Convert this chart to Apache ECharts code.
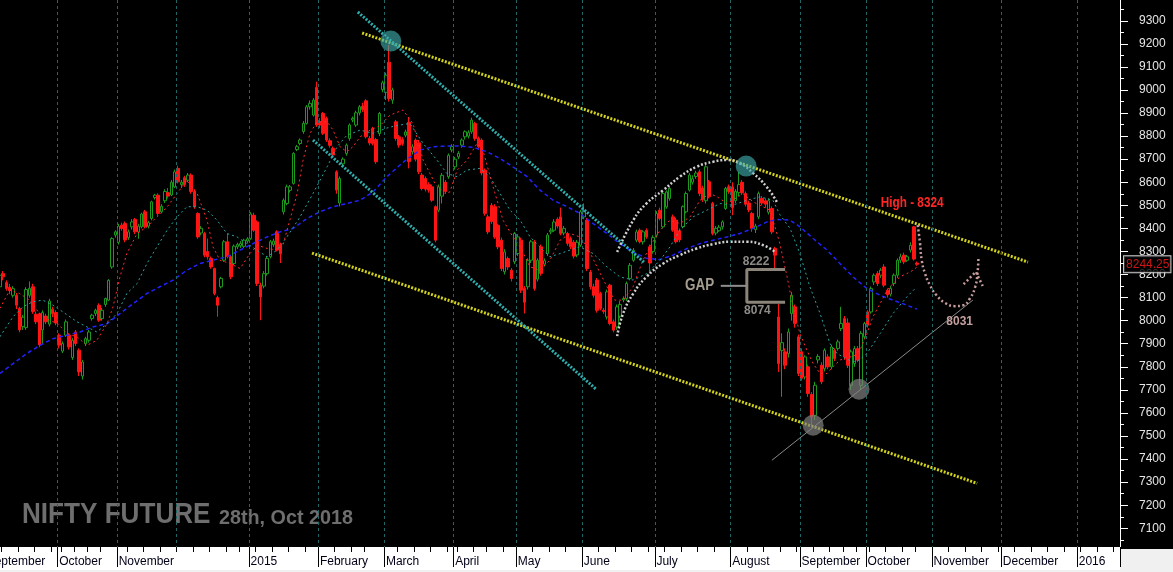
<!DOCTYPE html>
<html><head><meta charset="utf-8">
<script src="https://cdn.jsdelivr.net/npm/echarts@6/dist/echarts.min.js"></script>
<style>html,body{margin:0;padding:0;background:#000;overflow:hidden}#c{width:1173px;height:572px}</style>
</head><body><div id="c"></div>
<script>
// ---------- calendar (trading days) ----------
const HOLIDAYS = ['2014-10-02','2014-10-03','2014-10-06','2014-10-15','2014-10-24','2014-11-04','2014-11-06','2014-12-25',
  '2015-01-26','2015-02-17','2015-03-06','2015-04-02','2015-04-03','2015-04-14','2015-05-01','2015-09-17','2015-09-25','2015-10-02','2015-10-22'];
const EXTRA_DAYS = ['2015-02-28'];
const NO_LABEL_MONTHS = ['2014-12'];
const MONTH_NAMES = ['January','February','March','April','May','June','July','August','September','October','November','December'];

// ---------- price data [open, close, low, high] ----------
const ohlcSep14 = [[7990,8030,7975,8045],[8030,8120,8020,8130],[8120,8085,8070,8140],[8085,8130,8075,8150],[8147,8197,8120,8205],[8204,8190,8175,8215],[8165,8140,8130,8175],[8145,8130,8115,8160],[8110,8139,8100,8150],[8110,8067,8050,8120],[8053,7960,7950,8060],[7975,8015,7960,8025],[7970,8135,7960,8145],[8110,8140,8100,8170],[8147,8040,8030,8160],[8028,7995,7985,8040],[8030,7895,7885,8035],[7960,8035,7900,8045],[8020,7995,7985,8030],[7985,8085,7975,8095],[8050,8030,8015,8060],[8035,7990,7980,8045]];
const ohlcOct14 = [[7937,7894,7880,7945],[7868,7901,7860,7910],[7937,7995,7930,8005],[7937,7886,7875,7945],[7840,7915,7830,7925],[7951,7901,7890,7960],[7872,7778,7760,7880],[7760,7821,7745,7830],[7900,7922,7890,7930],[7915,7951,7905,7960],[8009,8024,8000,8030],[8031,8045,8020,8052],[8067,8002,7995,8075],[8009,8045,8000,8055],[8070,8096,8060,8100],[8089,8175,8085,8180],[8233,8356,8225,8362],[8371,8385,8360,8392]];
const ohlcNov14 = [[8340,8410,8330,8420],[8414,8400,8390,8425],[8421,8350,8340,8430],[8360,8385,8350,8395],[8407,8428,8395,8440],[8439,8385,8375,8445],[8385,8410,8355,8420],[8407,8462,8400,8468],[8472,8407,8400,8480],[8410,8425,8400,8432],[8443,8515,8435,8520],[8534,8544,8525,8550],[8544,8465,8455,8552],[8472,8496,8465,8505],[8520,8560,8510,8570],[8555,8540,8530,8575],[8545,8600,8540,8610],[8580,8645,8575,8655]];
const ohlcDec14 = [[8660,8602,8595,8672],[8590,8600,8575,8610],[8620,8590,8580,8628],[8609,8631,8600,8640],[8631,8560,8550,8638],[8560,8493,8485,8570],[8465,8363,8355,8470],[8380,8400,8370,8410],[8378,8284,8275,8385],[8300,8277,8265,8356],[8270,8233,8225,8278],[8226,8118,8110,8230],[8100,8067,8017,8108],[8147,8183,8140,8190],[8262,8342,8255,8350],[8342,8277,8270,8378],[8277,8190,8180,8285],[8248,8323,8240,8330],[8320,8330,8310,8338],[8325,8335,8315,8345],[8322,8349,8315,8355],[8345,8355,8335,8362]];
const ohlcJan15 = [[8356,8462,8350,8470],[8457,8392,8385,8468],[8428,8161,8150,8435],[8154,8103,8002,8165],[8150,8204,8140,8215],[8204,8270,8195,8280],[8277,8342,8270,8350],[8330,8345,8320,8355],[8385,8306,8300,8392],[8330,8290,8250,8338],[8472,8522,8460,8530],[8508,8580,8500,8590],[8565,8580,8555,8588],[8595,8725,8590,8730],[8742,8754,8735,8762],[8768,8783,8760,8790],[8820,8855,8810,8865],[8855,8927,8850,8935],[8927,8942,8915,8955],[8891,8956,8885,8965],[9011,8848,8840,9036]];
const ohlcFeb15 = [[8862,8848,8835,8878],[8898,8812,8805,8905],[8877,8783,8775,8885],[8780,8760,8750,8790],[8747,8718,8710,8755],[8645,8566,8550,8652],[8510,8616,8495,8625],[8680,8700,8670,8708],[8725,8761,8715,8768],[8790,8848,8780,8855],[8870,8877,8860,8885],[8848,8901,8840,8910],[8901,8927,8890,8935],[8930,8915,8905,8945],[8953,8797,8790,8960],[8790,8770,8760,8800],[8833,8768,8760,8840],[8785,8689,8680,8792],[8811,8898,8800,8905],[9002,9031,8990,9040]];
const ohlcMar15 = [[8990,9064,8956,9075],[9120,8963,8950,9195],[8956,9000,8940,9010],[8862,8790,8780,8870],[8797,8761,8750,8805],[8785,8768,8758,8795],[8804,8818,8795,8828],[8860,8690,8660,8880],[8732,8754,8720,8765],[8783,8700,8690,8790],[8771,8645,8635,8783],[8631,8573,8565,8640],[8616,8570,8560,8625],[8590,8566,8555,8600],[8580,8522,8515,8590],[8494,8349,8340,8500],[8479,8580,8470,8590],[8540,8630,8508,8640],[8600,8560,8550,8610],[8624,8717,8615,8725],[8740,8755,8730,8765]];
const ohlcApr15 = [[8667,8700,8655,8710],[8710,8725,8700,8735],[8761,8783,8750,8790],[8797,8819,8785,8825],[8800,8815,8790,8825],[8819,8869,8810,8880],[8855,8790,8780,8862],[8790,8754,8745,8798],[8783,8640,8630,8790],[8653,8465,8455,8660],[8450,8385,8375,8460],[8500,8430,8420,8510],[8494,8363,8355,8505],[8414,8320,8310,8420],[8349,8226,8215,8360],[8212,8298,8200,8310],[8269,8233,8220,8278],[8219,8183,8170,8228],[8255,8378,8245,8385]];
const ohlcMay15 = [[8291,8363,8280,8375],[8349,8132,8120,8360],[8140,8080,8031,8150],[8147,8262,8135,8270],[8262,8342,8250,8350],[8342,8139,8130,8350],[8180,8262,8170,8270],[8320,8205,8195,8330],[8245,8260,8235,8270],[8291,8371,8280,8380],[8385,8392,8375,8402],[8392,8428,8385,8440],[8440,8410,8400,8448],[8450,8378,8370,8490],[8380,8400,8370,8410],[8378,8335,8325,8385],[8356,8320,8310,8365],[8340,8280,8270,8350],[8285,8340,8275,8350],[8327,8472,8320,8480]];
const ohlcJun15 = [[8450,8472,8440,8508],[8436,8226,8215,8445],[8211,8147,8135,8220],[8147,8110,8100,8160],[8176,8045,8035,8185],[8118,8053,8045,8125],[8045,8040,8030,8055],[8016,8125,8005,8135],[8154,7988,7980,8160],[7995,7959,7950,8005],[7973,8060,7960,8070],[8020,8070,8010,8085],[8090,8096,8080,8105],[8096,8161,8085,8170],[8183,8240,8175,8250],[8262,8305,8255,8315],[8349,8385,8340,8395],[8392,8342,8335,8400],[8342,8385,8330,8392],[8392,8363,8355,8400],[8320,8250,8204,8330],[8300,8360,8290,8370]];
const ohlcJul15 = [[8371,8465,8360,8475],[8479,8443,8435,8490],[8407,8551,8400,8560],[8493,8558,8485,8565],[8530,8573,8520,8582],[8450,8392,8385,8460],[8436,8342,8335,8445],[8390,8350,8340,8400],[8407,8494,8400,8500],[8472,8551,8465,8560],[8566,8631,8560,8640],[8600,8615,8590,8630],[8625,8640,8615,8650],[8645,8551,8540,8655],[8575,8525,8515,8585],[8520,8667,8508,8680],[8602,8537,8530,8610],[8508,8378,8370,8515],[8380,8400,8370,8410],[8390,8405,8385,8415],[8407,8428,8395,8435],[8486,8573,8480,8580],[8580,8560,8550,8590]];
const ohlcAug15 = [[8580,8490,8457,8600],[8520,8560,8510,8570],[8555,8590,8540,8645],[8600,8555,8545,8610],[8551,8505,8495,8560],[8510,8480,8470,8520],[8465,8400,8385,8472],[8395,8410,8380,8420],[8450,8551,8440,8560],[8530,8510,8500,8540],[8520,8505,8490,8530],[8470,8520,8460,8530],[8486,8385,8375,8495],[8313,8284,8222,8320],[8016,7814,7778,8074],[7870,7905,7670,7945],[7865,7807,7790,7880],[7857,7951,7840,7966],[8031,8110,8000,8125],[8060,7988,7970,8070],[7930,7771,7760,7940]];
const ohlcSep15 = [[7865,7750,7740,7880],[7756,7843,7745,7850],[7800,7684,7670,7810],[7680,7583,7545,7690],[7590,7720,7570,7735],[7830,7845,7815,7855],[7807,7735,7725,7820],[7792,7872,7780,7880],[7843,7800,7790,7855],[7800,7886,7790,7895],[7872,7836,7825,7880],[7879,7908,7870,7918],[7966,7988,7955,8060],[8009,7843,7830,8020],[7990,7807,7795,8010],[7720,7865,7700,7875],[7814,7879,7800,7890],[7879,7829,7820,7890],[7720,7944,7700,7955],[7930,7988,7920,7995]];
const ohlcOct15 = [[8038,7980,7970,8045],[8038,8139,8030,8148],[8168,8197,8155,8205],[8205,8161,8150,8215],[8197,8219,8185,8228],[8233,8154,8145,8245],[8132,8112,8100,8140],[8115,8140,8105,8150],[8161,8197,8150,8205],[8197,8262,8185,8270],[8262,8277,8250,8290],[8284,8255,8245,8295],[8262,8277,8255,8285],[8306,8327,8295,8340],[8407,8267,8260,8410],[8250,8244.25,8238,8256]];
const lastPrice = 8244.25;

// ---------- indicator lines: [trading-day index, price] ----------
const maShort = [[4,8053],[7,8132],[10,8118],[13,8089],[16,8031],[19,8002],[21.6,7987],[24.3,7944],[27.4,7930],[30.4,7893],[33.4,7915],[36.5,7987],[38.3,8060],[40.4,8190],[42.5,8291],[45.6,8378],[48.6,8407],[51.6,8450],[54.7,8493],[57.7,8551],[60.7,8609],[63.8,8551],[66.8,8436],[68.6,8320],[70.7,8262],[73.8,8248],[76.8,8226],[79.8,8291],[82.2,8327],[85,8313],[88,8306],[89.8,8327],[91.9,8436],[94.1,8551],[95.9,8696],[98,8812],[100.1,8862],[103.2,8862],[105,8826],[107.1,8754],[109.2,8732],[111,8754],[113.2,8797],[116.2,8826],[119.2,8845],[122.2,8891],[126.2,8913],[129.2,8855],[132.3,8696],[135.9,8595],[138.9,8551],[140.4,8558],[142.6,8653],[145.6,8696],[148.6,8768],[150.4,8739],[153.5,8580],[156.5,8436],[159.5,8363],[161.7,8320],[164.7,8233],[167.7,8219],[170.7,8262],[173.8,8349],[176.8,8378],[179.8,8363],[182,8320],[185,8233],[188,8147],[190.4,8089],[192.9,8089],[195.9,8147],[198.9,8262],[201,8320],[204.1,8392],[207.1,8436],[210.1,8421],[213.2,8450],[216.2,8522],[219.2,8551],[221.4,8537],[224.4,8508],[226.2,8522],[229.2,8551],[232.3,8515],[237.4,8479],[240.4,8335],[242.6,8190],[244.4,8060],[246.5,7944],[248.6,7872],[250.5,7814],[252.6,7771],[254.7,7771],[256.5,7800],[258.6,7829],[260.8,7843],[262.6,7843],[264.7,7872],[266.8,7944],[268.6,8016],[270.8,8074],[272.9,8132],[274.7,8161],[276.8,8190],[278.9,8204],[280.8,8219],[282,8233]];
const maMid = [[4,7930],[8,8017],[11,8060],[14,8082],[17,8089],[20.1,8067],[23.1,8038],[27.4,7995],[30.4,7973],[33.4,7951],[36.5,7987],[39.5,8031],[42.5,8118],[45.6,8161],[48.6,8248],[51.6,8320],[54.7,8392],[57.7,8450],[60.7,8494],[63.8,8494],[66.8,8479],[69.8,8436],[72.8,8378],[75.9,8363],[78.9,8334],[81.9,8306],[85,8277],[88,8306],[91,8363],[95,8450],[98.9,8551],[103.2,8667],[106.2,8754],[109.2,8804],[113.2,8826],[117.1,8812],[121.3,8835],[124,8845],[128.3,8855],[132.3,8768],[136.5,8696],[139.5,8638],[142.6,8624],[145.6,8653],[149.5,8660],[152.5,8624],[155.6,8551],[158.6,8479],[161.7,8436],[164.7,8363],[167.7,8320],[170.7,8277],[173.8,8291],[176.8,8306],[179.8,8320],[183.8,8291],[188,8233],[191.9,8190],[195.9,8176],[200.1,8204],[204.1,8262],[207.1,8320],[210.1,8392],[214.1,8450],[218.3,8479],[222.3,8508],[226.2,8501],[230.4,8522],[234.4,8537],[238.3,8522],[240.4,8460],[243.5,8400],[246.5,8290],[249.5,8147],[252.6,8031],[255.6,7901],[257.7,7858],[259.5,7843],[262.6,7821],[264.5,7830],[266.8,7858],[270.8,7944],[274.7,8031],[278.9,8103],[281.4,8139]];
const maLong = [[4,7771],[8,7814],[12.2,7858],[16.2,7893],[20.1,7922],[24.3,7937],[28.3,7951],[32.2,7973],[36.5,7987],[40.4,8031],[44.4,8074],[48.6,8118],[52.5,8147],[56.5,8176],[60.7,8219],[64.7,8248],[68.6,8262],[72.8,8277],[76.8,8306],[80.7,8334],[85,8363],[88.9,8385],[92.9,8400],[97.1,8443],[101,8472],[105,8494],[109.2,8508],[113.2,8522],[117.1,8558],[121.3,8624],[125.3,8675],[127.4,8700],[131.3,8739],[135.3,8754],[139.5,8757],[143.5,8757],[147.4,8751],[151.7,8732],[155.6,8703],[159.5,8667],[163.8,8624],[167.7,8566],[171.7,8522],[175.9,8494],[179.8,8465],[183.8,8421],[188,8378],[191.9,8334],[195.9,8298],[200.1,8270],[204.1,8265],[208,8284],[212.3,8313],[216.2,8334],[220.2,8349],[224.4,8363],[228.3,8378],[232.3,8400],[236.5,8428],[239.5,8439],[243.5,8436],[246.5,8407],[250.5,8356],[254.7,8306],[258.6,8248],[262.6,8190],[266.8,8139],[270.8,8110],[274.7,8089],[278.9,8067],[282,8050]];

// ---------- drawings: [trading-day index, price] ----------
const upperChannel = [[113.8,9247],[315.6,8254]];
const lowerChannel = [[98.6,8293],[300.2,7295]];
const cyanTrendA = [[112.5,9338],[199.2,8254]];
const cyanTrendB = [[98.9,8783],[184.7,7703]];
const supportLine = [[238.0,7395],[298.9,8089]];
const cyanCircles = [[122.5,9212],[230.2,8670]];
const grayCircles = [[250.5,7547],[264.4,7703]];
const upperArc = [[191.1,8298],[196.0,8436],[200.0,8508],[205.1,8566],[210.1,8624],[215.2,8667],[220.2,8689],[224.3,8696],[228.3,8682],[232.4,8638],[236.4,8580],[239.5,8515]];
const lowerArc = [[191.1,7933],[192.9,8031],[196.0,8118],[200.0,8190],[205.1,8248],[210.1,8284],[215.2,8313],[220.2,8332],[225.3,8342],[230.4,8342],[235.4,8327],[238.9,8298]];
const projection = [[282.2,8414],[282.9,8335],[283.4,8262],[284.4,8205],[285.9,8154],[287.9,8110],[290.5,8077],[293.5,8063],[296.0,8067],[298.0,8096],[299.6,8146],[300.3,8205],[300.6,8277]];
const projectionArrow = [[296.1,8158],[299.8,8212],[301.9,8150]];
const gapBracket = [[242.0,8222],[230.4,8222],[230.4,8080],[242.0,8080]];
const gapPointer = [[222.5,8151],[230.4,8151]];
const notes = [
  {text:'High - 8324', value:[280.5,8510], color:'#ff2626', size:14, sx:0.84},
  {text:'GAP', value:[216.1,8154], color:'#a59e90', size:16, sx:0.84},
  {text:'8222', value:[233.2,8257], color:'#8e8a86', size:13, sx:0.92},
  {text:'8074', value:[233.6,8044], color:'#8e8a86', size:13, sx:0.92},
  {text:'8031', value:[294.9,7997], color:'#c6a0a0', size:13, sx:0.92}
];
const titleMain = 'NIFTY FUTURE';
const titleDate = '28th, Oct 2018';
const priceTicks = [7100,7200,7300,7400,7500,7600,7700,7800,7900,8000,8100,8200,8300,8400,8500,8600,8700,8800,8900,9000,9100,9200,9300];
const priceMinorTicks = [7050,7150,7250,7350,7450,7550,7650,7750,7850,7950,8050,8150,8250,8350,8450,8550,8650,8750,8850,8950,9050,9150,9250,9350];

// ---------- build ----------
const dates = [];
for (let t = Date.UTC(2014,8,1); t <= Date.UTC(2016,0,19); t += 86400000) {
  const d = new Date(t), s = d.toISOString().slice(0,10), w = d.getUTCDay();
  if ((w > 0 && w < 6 && HOLIDAYS.indexOf(s) < 0) || EXTRA_DAYS.indexOf(s) >= 0) dates.push(s);
}
const dow = s => new Date(s + 'T00:00:00Z').getUTCDay();
const monthStart = dates.map((s,i) => i === 0 || s.slice(0,7) !== dates[i-1].slice(0,7));
const labeled = dates.map((s,i) => monthStart[i] && NO_LABEL_MONTHS.indexOf(s.slice(0,7)) < 0);
const weekStart = dates.map((s,i) => i === 0 || dow(s) < dow(dates[i-1]));
const monthLabel = s => { const m = +s.slice(5,7); return m === 1 ? s.slice(0,4) : MONTH_NAMES[m-1]; };
const candles = [].concat(ohlcSep14, ohlcOct14, ohlcNov14, ohlcDec14, ohlcJan15, ohlcFeb15, ohlcMar15, ohlcApr15, ohlcMay15, ohlcJun15, ohlcJul15, ohlcAug15, ohlcSep15, ohlcOct15);

const SANS = '"Liberation Sans", Arial, sans-serif';
const line = (data, color, width, type, z, smooth) => ({
  type:'line', xAxisIndex:2, yAxisIndex:0, data, symbol:'none', silent:true, smooth: smooth || false, z,
  lineStyle:{color, width, type, cap:'butt'}, animation:false
});

const chart = echarts.init(document.getElementById('c'), null, {renderer:'canvas'});
chart.setOption({
  backgroundColor:'#000',
  animation:false,
  grid:{left:-15, right:53, top:0, bottom:25, containLabel:false, outerBoundsMode:'none'},
  xAxis:[
    {type:'category', data:dates, boundaryGap:true, position:'bottom', z:6,
     axisLine:{show:true, onZero:false, lineStyle:{color:'#fff'}},
     axisTick:{show:true, interval:(i)=>weekStart[i], length:5, lineStyle:{color:'#000'}},
     axisLabel:{show:true, interval:(i)=>labeled[i], formatter:(v)=>monthLabel(v), align:'left', color:'#000018', fontSize:12, fontFamily:SANS, margin:9},
     splitLine:{show:false}},
    {type:'category', data:dates, boundaryGap:true, position:'bottom', z:6,
     axisLine:{show:false, onZero:false},
     axisTick:{show:true, interval:(i)=>labeled[i], length:20, lineStyle:{color:'#000'}},
     axisLabel:{show:false},
     splitLine:{show:true, interval:(i)=>monthStart[i], lineStyle:{color:'#1f6767', width:1, type:[3,3]}}},
    {type:'value', min:-0.5, max:dates.length-0.5, show:false}
  ],
  yAxis:[
    {type:'value', position:'right', min:7019, max:9390, z:6,
     axisLine:{show:true, onZero:false, lineStyle:{color:'#fff'}},
     axisTick:{show:true, customValues:priceTicks, length:8, lineStyle:{color:'#fff'}},
     axisLabel:{show:true, customValues:priceTicks, margin:19, color:'#e6e6e6', fontSize:12, fontFamily:SANS, formatter:(v)=>String(v)},
     splitLine:{show:false}},
    {type:'value', position:'right', min:7019, max:9390, z:6,
     axisLine:{show:false, onZero:false},
     axisTick:{show:true, customValues:priceMinorTicks, length:4, lineStyle:{color:'#fff'}},
     axisLabel:{show:false}, splitLine:{show:false}}
  ],
  series:[
    {type:'candlestick', xAxisIndex:0, yAxisIndex:0, data:candles, barWidth:3, clip:true, z:2, silent:true,
     itemStyle:{color:'#000', color0:'#ff1414', borderColor:'#1c9a1c', borderColor0:'#ff1414', borderWidth:1}},
    line(maLong, '#2222ff', 1.5, [4,3], 3),
    line(maMid, '#2aa4a4', 1, [2,3], 3),
    line(maShort, '#ff2b2b', 1, [2,3], 3),
    line(upperChannel, '#d2d21e', 3, [2,1.5], 4),
    line(lowerChannel, '#d2d21e', 3, [2,1.5], 4),
    line(cyanTrendA, '#30adad', 3, [2,1.5], 4),
    line(cyanTrendB, '#30adad', 3, [2,1.5], 4),
    line(supportLine, '#8a8a8a', 1, 'solid', 4),
    line(upperArc, '#d0d0d0', 2.5, [2,2], 4, 0.5),
    line(lowerArc, '#d0d0d0', 2.5, [2,2], 4, 0.5),
    line(projection, '#c89c9c', 2.5, [2,2.5], 4, 0.5),
    line(projectionArrow, '#c89c9c', 2.5, [2,2.5], 4),
    line(gapBracket, '#8b8478', 3, 'solid', 4),
    line(gapPointer, '#8e8e8e', 2, 'solid', 4),
    {type:'scatter', xAxisIndex:2, yAxisIndex:0, data:cyanCircles, symbol:'circle', symbolSize:21, silent:true, z:5,
     itemStyle:{color:'rgba(62,172,172,0.8)'}},
    {type:'scatter', xAxisIndex:2, yAxisIndex:0, data:grayCircles, symbol:'circle', symbolSize:21, silent:true, z:5,
     itemStyle:{color:'rgba(128,128,128,0.88)'}},
    {type:'scatter', xAxisIndex:2, yAxisIndex:0, symbolSize:0.1, silent:true, clip:false, z:8, itemStyle:{color:'transparent'},
     data:[[dates.length - 0.5, lastPrice]],
     label:{show:true, position:'right', distance:4, formatter:String(lastPrice), color:'#ff1a1a', fontSize:12, fontFamily:SANS,
            backgroundColor:'#000', borderColor:'#fff', borderWidth:1, padding:[3,1,1,2]}}
  ]
});

// text annotations placed at their data coordinates
const toPx = v => chart.convertToPixel({xAxisIndex:2, yAxisIndex:0}, v);
const noteGraphics = notes.map(n => {
  const p = toPx(n.value);
  return {type:'text', z:100, silent:true, x:p[0], y:p[1], scaleX:n.sx, scaleY:1,
          style:{text:n.text, fill:n.color, font:'bold ' + n.size + 'px ' + SANS, align:'center', verticalAlign:'middle'}};
});
chart.setOption({
  graphic:[
    {type:'rect', z:1, silent:true, shape:{x:0, y:547, width:1120, height:23}, style:{fill:'#fff'}},
    {type:'rect', z:1, silent:true, shape:{x:1120, y:549, width:53, height:23}, style:{fill:'#f0f0f0'}},
    {type:'rect', z:1, silent:true, shape:{x:0, y:570, width:1173, height:2}, style:{fill:'#f0f0f0'}},
    {type:'text', z:3, silent:true, x:22, y:515, scaleX:0.9, scaleY:1, style:{text:titleMain, fill:'#6e6e6e', font:'bold 29px ' + SANS, verticalAlign:'middle', align:'left'}},
    {type:'text', z:3, silent:true, x:219, y:518, scaleX:0.94, scaleY:1, style:{text:titleDate, fill:'#6e6e6e', font:'bold 21px ' + SANS, verticalAlign:'middle', align:'left'}}
  ].concat(noteGraphics)
});
</script></body></html>
